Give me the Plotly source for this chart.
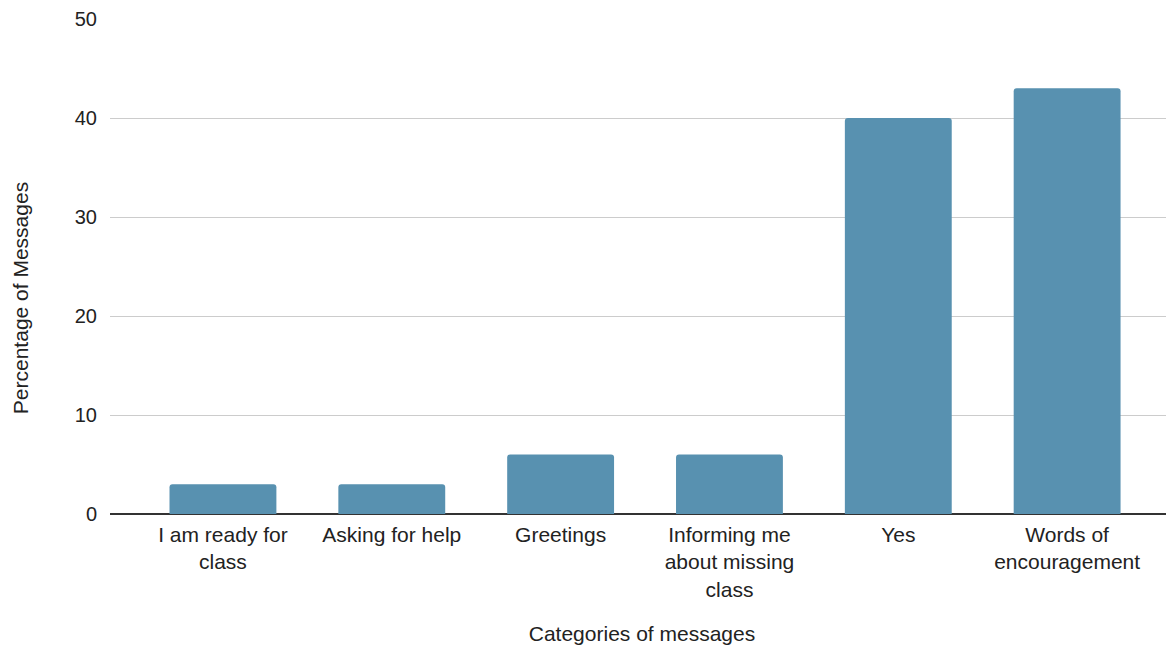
import plotly.graph_objects as go

categories = ["I am ready for<br>class", "Asking for help", "Greetings",
              "Informing me<br>about missing<br>class", "Yes", "Words of<br>encouragement"]
percentages = [3, 3, 6, 6, 40, 43]
y_ticks = [0, 10, 20, 30, 40, 50]

FONT = "Liberation Sans, Arial, sans-serif"
TXT = "#222222"

fig = go.Figure(go.Bar(
    x=list(range(len(categories))),
    y=percentages,
    marker=dict(color="#5891b0", cornerradius=3, line=dict(width=0)),
    width=0.633,
    hoverinfo="skip",
))

# page has an 8px body margin, so the figure is shifted by 8px
fig.update_layout(
    width=1166, height=640,
    margin=dict(l=102, r=0, t=11, b=134),
    paper_bgcolor="white", plot_bgcolor="white",
    font=dict(family=FONT, size=21, color=TXT),
    showlegend=False,
    annotations=[dict(
        text="Percentage of Messages", textangle=-90,
        xref="paper", yref="paper", x=-0.0846, y=0.436,
        xanchor="center", yanchor="middle", showarrow=False,
        font=dict(size=21, family=FONT, color=TXT),
    )],
)
fig.update_xaxes(
    tickmode="array", tickvals=list(range(len(categories))), ticktext=categories,
    range=[-0.669, 5.633], showgrid=False, zeroline=False,
    showline=False, ticks="", ticklabelstandoff=6,
    tickfont=dict(size=21, family=FONT, color=TXT),
    title=dict(text="Categories of messages", font=dict(size=21, family=FONT, color=TXT), standoff=26),
)
fig.update_yaxes(
    range=[0, 50], tickvals=y_ticks, showgrid=True, gridcolor="#cccccc", gridwidth=1,
    zeroline=True, zerolinecolor="#333333", zerolinewidth=1.5,
    showline=False, ticks="", ticklabelstandoff=12,
    tickfont=dict(size=20, family=FONT, color=TXT),
)

fig.write_html("out.html")
